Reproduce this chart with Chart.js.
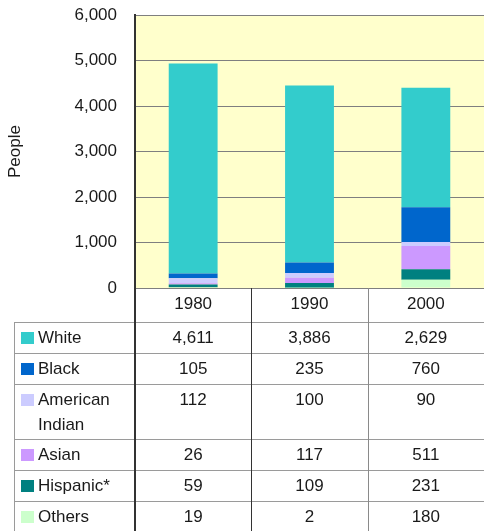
<!DOCTYPE html>
<html>
<head>
<meta charset="utf-8">
<script src="https://cdn.jsdelivr.net/npm/chart.js@4/dist/chart.umd.min.js"></script>
<style>
  html, body { margin: 0; padding: 0; background: #fff; }
  #wrap { width: 484px; height: 531px; }
</style>
</head>
<body>
<div id="wrap"><canvas id="chart" width="484" height="531"></canvas></div>
<script>
// data
const years = ['1980', '1990', '2000'];
const groups = ['White', 'Black', 'American Indian', 'Asian', 'Hispanic*', 'Others'];
const white = [4611, 3886, 2629];
const black = [105, 235, 760];
const americanIndian = [112, 100, 90];
const asian = [26, 117, 511];
const hispanic = [59, 109, 231];
const others = [19, 2, 180];
const yTicks = [0, 1000, 2000, 3000, 4000, 5000, 6000];

const groupValues = [white, black, americanIndian, asian, hispanic, others];
const groupColors = ['#33cccc', '#0066cc', '#ccccff', '#cc99ff', '#008080', '#ccffcc'];

const fontFamily = '"Liberation Sans", Arial, sans-serif';
const textColor = '#1a1a1a';

// first dataset sits at the bottom of the stack, so reverse the table order
const datasets = groups.map((name, i) => ({
    label: name,
    data: groupValues[i],
    backgroundColor: groupColors[i],
    borderWidth: 0,
    barPercentage: 0.42,
    categoryPercentage: 1
})).reverse();

const fmt = v => Number(v).toLocaleString('en-US');

const tablePlugin = {
    id: 'dataTable',
    beforeDraw(chart) {
        const { ctx, chartArea: a } = chart;
        ctx.save();
        ctx.fillStyle = '#ffffcc';
        ctx.fillRect(a.left, a.top, a.right - a.left, a.bottom - a.top);
        ctx.restore();
    },
    afterDraw(chart) {
        const { ctx, chartArea: a } = chart;
        const x = chart.scales.x;
        const half = (x.getPixelForValue(1) - x.getPixelForValue(0)) / 2;
        const bottom = chart.height;
        const tableLeft = 14;
        const right = chart.width;
        const headerBottom = a.bottom + 34;
        const rowH = 31;
        const lineH = 25;

        ctx.save();
        ctx.font = '17px ' + fontFamily;
        ctx.textBaseline = 'middle';
        ctx.fillStyle = textColor;

        // header: years
        ctx.textAlign = 'center';
        years.forEach((y, i) => {
            ctx.fillText(y, x.getPixelForValue(i), a.bottom + 16);
        });

        // rows
        const labelMax = a.left - tableLeft - 28;
        let top = headerBottom;
        const rowTops = [];
        groups.forEach((name, r) => {
            let lines = [name];
            if (ctx.measureText(name).width > labelMax && name.indexOf(' ') > 0) {
                lines = name.split(' ');
            }
            const h = lines.length > 1 ? rowH + lineH - 1 : rowH;
            const cy = top + 16;

            ctx.fillStyle = groupColors[r];
            ctx.fillRect(tableLeft + 7, cy - 6, 13, 12);

            ctx.fillStyle = textColor;
            ctx.textAlign = 'left';
            lines.forEach((ln, k) => ctx.fillText(ln, tableLeft + 24, cy + k * lineH));

            ctx.textAlign = 'center';
            groupValues[r].forEach((v, i) => {
                ctx.fillText(fmt(v), x.getPixelForValue(i), cy);
            });

            rowTops.push(top);
            top += h;
        });

        // horizontal rules
        ctx.strokeStyle = '#9a9a9a';
        ctx.lineWidth = 1;
        rowTops.forEach(t => {
            ctx.beginPath();
            ctx.moveTo(tableLeft, t + 0.5);
            ctx.lineTo(right, t + 0.5);
            ctx.stroke();
        });
        ctx.beginPath();
        ctx.moveTo(tableLeft + 0.5, headerBottom);
        ctx.lineTo(tableLeft + 0.5, bottom);
        ctx.stroke();

        // column separators
        years.forEach((y, i) => {
            if (i === 0) return;
            const cx = Math.round(x.getPixelForValue(i) - half) + 0.5;
            ctx.strokeStyle = i === 1 ? '#333' : '#8a8a8a';
            ctx.beginPath();
            ctx.moveTo(cx, a.bottom);
            ctx.lineTo(cx, bottom);
            ctx.stroke();
        });

        // y axis line carried down through the table
        ctx.strokeStyle = '#333';
        ctx.lineWidth = 2;
        ctx.beginPath();
        ctx.moveTo(a.left, a.bottom);
        ctx.lineTo(a.left, bottom);
        ctx.stroke();
        ctx.restore();
    }
};

new Chart(document.getElementById('chart'), {
    type: 'bar',
    data: { labels: years, datasets: datasets },
    plugins: [tablePlugin],
    options: {
        responsive: false,
        animation: false,
        layout: { padding: { top: 15, right: 0, bottom: 243, left: 0 } },
        plugins: {
            legend: { display: false },
            tooltip: { enabled: false }
        },
        scales: {
            x: { stacked: true, display: false },
            y: {
                stacked: true,
                min: 0,
                max: 6000,
                afterFit: s => {
                    s.width = 135;
                    s.paddingTop = 0;
                    s.paddingBottom = 0;
                },
                afterBuildTicks: s => { s.ticks = yTicks.map(v => ({ value: v })); },
                ticks: {
                    padding: 18,
                    color: textColor,
                    font: { family: fontFamily, size: 17 },
                    callback: v => fmt(v)
                },
                grid: { color: '#7f7f7f', drawTicks: false },
                border: { color: '#333', width: 2 },
                title: {
                    display: true,
                    text: 'People',
                    color: textColor,
                    font: { family: fontFamily, size: 17 },
                    padding: { top: 5, bottom: 0 }
                }
            }
        }
    }
});
</script>
</body>
</html>
